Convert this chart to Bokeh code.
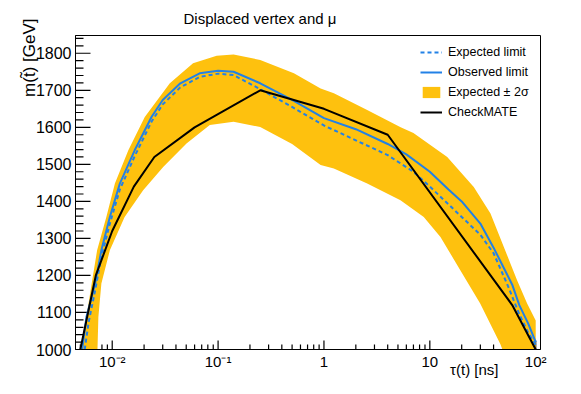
from bokeh.plotting import figure
from bokeh.models import (Range1d, FixedTicker, SingleIntervalTicker, Title,
                          Legend, LegendItem)
from bokeh.embed import file_html
from bokeh.resources import INLINE

# ---------------- data ----------------
obs_tau = [0.0052, 0.0057, 0.0069, 0.0079, 0.0095, 0.0118, 0.0163, 0.0235, 0.030,
           0.044, 0.067, 0.10, 0.14, 0.25, 0.5, 1.0, 2.0, 4.0, 6.0, 10, 15, 20,
           30, 40, 50, 60, 70, 85, 100]
obs_m = [1000, 1087, 1178, 1268, 1358, 1448, 1538, 1628, 1674,
         1719, 1746, 1753, 1750, 1719, 1674, 1625, 1595, 1555, 1527, 1480, 1432, 1400,
         1340, 1275, 1220, 1175, 1120, 1070, 1020]

exp_tau = [0.0055, 0.0060, 0.0069, 0.0079, 0.0095, 0.0118, 0.0163, 0.0235, 0.030,
           0.044, 0.067, 0.10, 0.14, 0.25, 0.5, 1.0, 2.0, 4.0, 7.0, 10, 20, 30,
           40, 55, 70, 85, 100]
exp_m = [1000, 1075, 1160, 1250, 1340, 1432, 1522, 1615, 1662,
         1708, 1736, 1745, 1741, 1703, 1655, 1605, 1565, 1525, 1480, 1440, 1358, 1310,
         1260, 1170, 1095, 1045, 1012]

band_up_tau = [0.0051, 0.0064, 0.0072, 0.0088, 0.0106, 0.0142, 0.0203, 0.035, 0.058,
               0.097, 0.14, 0.25, 0.52, 0.93, 1.24, 2.56, 5.3, 7.0, 14.6, 26, 37.4,
               50, 66.7, 83, 100]
band_up_m = [1000, 1178, 1268, 1358, 1448, 1538, 1628, 1719, 1773,
             1793, 1797, 1782, 1746, 1705, 1692, 1647, 1600, 1585, 1520, 1439, 1367,
             1277, 1187, 1124, 1078]

band_lo_tau = [0.0051, 0.0071, 0.0074, 0.0079, 0.0095, 0.0131, 0.0196, 0.0303, 0.0503,
               0.0835, 0.14, 0.25, 0.5, 0.93, 1.24, 2.56, 5.28, 8.76, 12.6, 19.4,
               29.9, 46.3, 60, 100]
band_lo_m = [900, 900, 1087, 1178, 1268, 1358, 1430, 1493, 1556,
             1606, 1615, 1601, 1555, 1498, 1489, 1448, 1403, 1358, 1304, 1214,
             1124, 1015, 930, 700]

cm_tau = [0.005, 0.007, 0.01, 0.016, 0.025, 0.06, 0.25, 1.0, 4.0, 60, 100]
cm_m = [1000, 1200, 1320, 1440, 1520, 1600, 1700, 1650, 1580, 1120, 1000]

x_ticks = [0.01, 0.1, 1, 10, 100]
x_tick_labels = ["10⁻²", "10⁻¹", "1", "10", "10²"]
y_ticks = [1000, 1100, 1200, 1300, 1400, 1500, 1600, 1700, 1800]

title_text = "Displaced vertex and μ"
x_title = "τ(t) [ns]"
y_title = "m(t̃) [GeV]"
legend_labels = ["Expected limit", "Observed limit", "Expected ± 2σ", "CheckMATE"]

# ---------------- style ----------------
FONT = "Liberation Sans"
BAND = "#fec10e"
BLUE = "#2281e6"
W, H = 565, 378
X0, X1, Y0, Y1 = 0.0045, 111, 1000, 1848
FRAME_W, FRAME_H = 465, 314          # frame size in px (W-75-25, H-35-29)

p = figure(width=W, height=H, x_axis_type="log",
           x_range=Range1d(X0, X1), y_range=Range1d(Y0, Y1),
           output_backend="svg", toolbar_location=None,
           min_border_left=75, min_border_right=25,
           min_border_top=35, min_border_bottom=29)
p.xgrid.visible = False
p.ygrid.visible = False
p.outline_line_color = "black"
p.outline_line_width = 1
p.background_fill_color = None
p.border_fill_color = "white"

# title
p.title.text = title_text
p.title.align = "left"
p.title.offset = 108
p.title.vertical_align = "top"
p.title.standoff = 14
p.title.text_font = FONT
p.title.text_font_size = "15px"
p.title.text_font_style = "normal"
p.title.text_color = "black"

# axes (labels only; tick marks are drawn inside the frame below)
minor_x = [m * 10.0 ** e for e in range(-3, 3) for m in range(2, 10)]
minor_x = [v for v in minor_x if X0 <= v <= X1]
minor_y = [v for v in range(1000, 1860, 20) if v % 100 != 0]
p.xaxis.ticker = FixedTicker(ticks=x_ticks, minor_ticks=minor_x)
p.xaxis.major_label_overrides = {t: s for t, s in zip(x_ticks, x_tick_labels)}
p.yaxis.ticker = SingleIntervalTicker(interval=100, num_minor_ticks=5)

for ax in (p.xaxis[0], p.yaxis[0]):
    ax.axis_line_color = "black"
    ax.major_tick_line_color = None
    ax.minor_tick_line_color = None
    ax.major_tick_out = 0
    ax.minor_tick_out = 0
    ax.major_tick_in = 0
    ax.minor_tick_in = 0
    ax.major_label_text_font = FONT
    ax.major_label_text_color = "black"

p.yaxis.major_label_text_font_size = "16px"
p.yaxis.major_label_standoff = 4
p.xaxis.major_label_text_font_size = "15px"
p.xaxis.major_label_standoff = 3

# tick marks pointing into the frame (ROOT style), lengths given in px
def x_after(px):
    return X0 * (X1 / X0) ** (px / FRAME_W)

def y_after(px):
    return Y0 + (Y1 - Y0) * px / FRAME_H

p.segment(x0=[X0] * len(y_ticks), y0=y_ticks, x1=[x_after(15)] * len(y_ticks), y1=y_ticks,
          line_color="black", line_width=1.2)
p.segment(x0=[X0] * len(minor_y), y0=minor_y, x1=[x_after(8)] * len(minor_y), y1=minor_y,
          line_color="black", line_width=1.2)
p.segment(x0=x_ticks, y0=[Y0] * len(x_ticks), x1=x_ticks, y1=[y_after(9)] * len(x_ticks),
          line_color="black", line_width=1.2)
p.segment(x0=minor_x, y0=[Y0] * len(minor_x), x1=minor_x, y1=[y_after(5)] * len(minor_x),
          line_color="black", line_width=1.2)

# x axis title, under the right part of the axis
xt = Title(text=x_title, align="right", offset=42, vertical_align="top", standoff=-24,
           text_font=FONT, text_font_size="15px", text_font_style="normal",
           text_color="black")
p.add_layout(xt, "below")

# y axis title (vertical, ends above the frame top)
yt = Title(text=y_title, align="right", offset=-17, standoff=-12,
           text_font=FONT, text_font_size="17px", text_font_style="normal",
           text_color="black")
p.add_layout(yt, "left")

# band
bx = band_up_tau + band_lo_tau[::-1]
by = band_up_m + band_lo_m[::-1]
r_band = p.patch(bx, by, fill_color=BAND, line_color=None)
r_bandline = p.line([], [], line_color=BLUE, line_width=1)

r_exp = p.line(exp_tau, exp_m, line_color=BLUE, line_width=2, line_dash="4 3")
r_obs = p.line(obs_tau, obs_m, line_color=BLUE, line_width=2)
r_cm = p.line(cm_tau, cm_m, line_color="black", line_width=2)

legend = Legend(items=[
    LegendItem(label=legend_labels[0], renderers=[r_exp]),
    LegendItem(label=legend_labels[1], renderers=[r_obs]),
    LegendItem(label=legend_labels[2], renderers=[r_band, r_bandline]),
    LegendItem(label=legend_labels[3], renderers=[r_cm]),
], location=(345, 227))
legend.padding = 0
legend.margin = 0
legend.spacing = 0
legend.glyph_width = 22
legend.glyph_height = 14
legend.label_height = 20
legend.label_standoff = 6
legend.border_line_alpha = 0
legend.background_fill_alpha = 0
legend.label_text_font = FONT
legend.label_text_font_size = "12.5px"
legend.label_text_color = "black"
p.add_layout(legend)

open("out.html", "w").write(file_html(p, INLINE))
